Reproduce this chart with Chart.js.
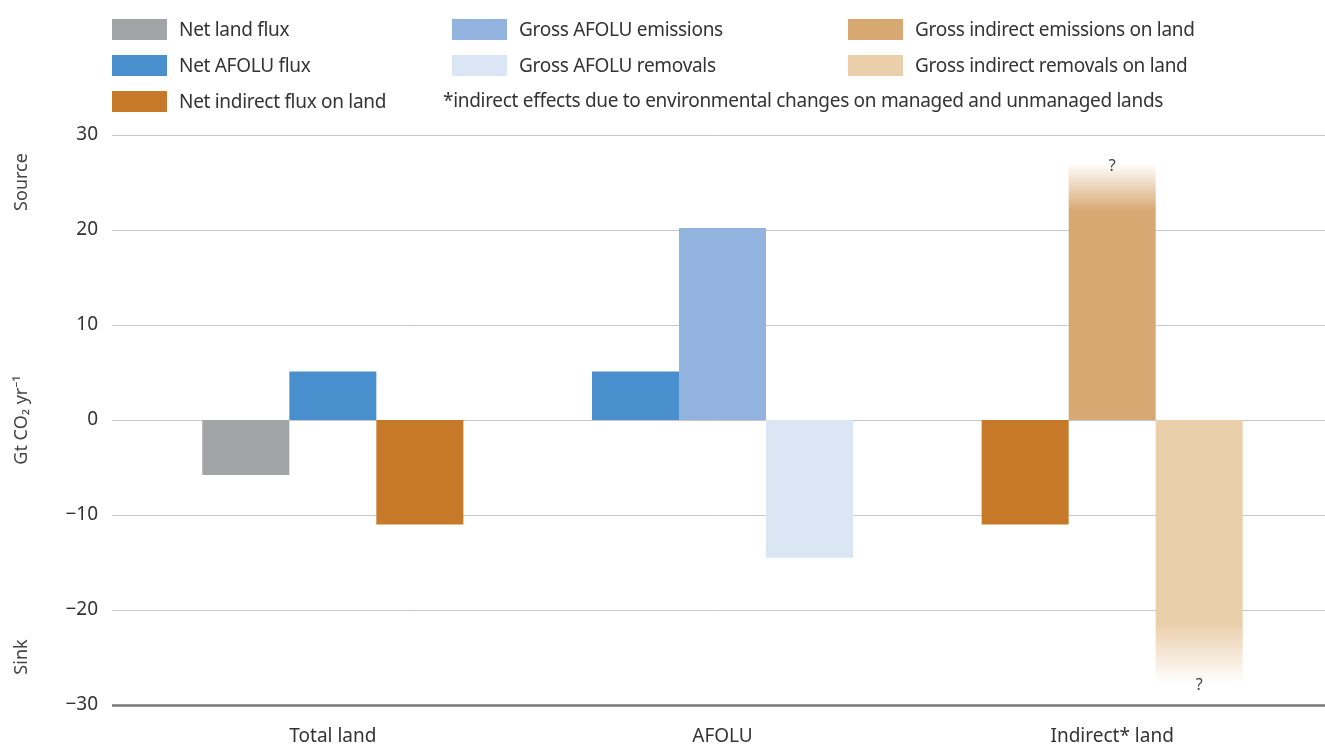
<!DOCTYPE html>
<html><head><meta charset="utf-8">
<script src="https://cdn.jsdelivr.net/npm/chart.js@4"></script>
<style>
body{margin:0;background:#fff;font-family:"Noto Sans",sans-serif;}
#wrap{position:relative;width:1325px;height:745px;}
#legend{position:absolute;left:0;top:0;width:1325px;height:120px;font-size:19px;color:#333;letter-spacing:-0.3px;}
.it{position:absolute;display:flex;align-items:center;white-space:nowrap;}
.sw{width:55px;height:21px;margin-right:12px;}
</style></head><body>
<div id="wrap"><canvas id="c" width="1325" height="745"></canvas><div id="legend"></div></div>
<script>
const categories = ["Total land", "AFOLU", "Indirect* land"];
const firstBar = [-5.8, 5.1, -11];
const secondBar = [5.1, 20.2, 27];
const thirdBar = [-11, -14.5, -27.7];
const yTicks = [30, 20, 10, 0, -10, -20, -30];
const legendNames = ["Net land flux", "Net AFOLU flux", "Net indirect flux on land", "Gross AFOLU emissions", "Gross AFOLU removals", "Gross indirect emissions on land", "Gross indirect removals on land"];
const legendColors = ["#a3a4a6", "#4a8fcd", "#c67a29", "#92b3de", "#dae6f4", "#d8a872", "#ebcfab"];
const note = "*indirect effects due to environmental changes on managed and unmanaged lands";

// legend in HTML
const pos = [[112,16],[112,52],[112,88],[452,16],[452,52],[848,16],[848,52]];
let html = "";
legendNames.forEach(function (n, i) {
    html += "<div class='it' style='left:" + pos[i][0] + "px;top:" + pos[i][1] + "px'><div class='sw' style='background:" + legendColors[i] + "'></div>" + n + "</div>";
});
html += "<div class='it' style='left:443px;top:89px;height:21px'>" + note + "</div>";
document.getElementById("legend").innerHTML = html;

function fade(ctx, color, solidTo, fadeTo) {
    const c = ctx.chart;
    if (!c.chartArea) return color;
    const y = c.scales.y;
    const g = c.ctx.createLinearGradient(0, y.getPixelForValue(solidTo), 0, y.getPixelForValue(fadeTo));
    g.addColorStop(0, color);
    g.addColorStop(1, "rgba(255,255,255,1)");
    return g;
}

const FONT = "'Noto Sans', sans-serif";

const extras = {
    id: "extras",
    beforeDatasetsDraw(chart) {
        const ctx = chart.ctx, y = chart.scales.y;
        ctx.save();
        yTicks.forEach(function (v) {
            const p = Math.round(y.getPixelForValue(v)) + 0.5;
            ctx.strokeStyle = v === -30 ? "#777" : "#c8c8c8";
            ctx.lineWidth = v === -30 ? 2.5 : 1;
            ctx.beginPath(); ctx.moveTo(112, p); ctx.lineTo(1325, p); ctx.stroke();
        });
        ctx.restore();
    },
    afterDraw(chart) {
        const ctx = chart.ctx, y = chart.scales.y;
        ctx.save();
        ctx.fillStyle = "#444";
        ctx.font = "18px " + FONT;
        ctx.textAlign = "center";
        ctx.textBaseline = "middle";
        const labs = [["Source", 182], ["Gt CO\u2082 yr\u207B\u00B9", 420], ["Sink", 657]];
        labs.forEach(function (l) {
            ctx.save(); ctx.translate(22, l[1]); ctx.rotate(-Math.PI / 2); ctx.fillText(l[0], 0, 0); ctx.restore();
        });
        ctx.font = "16px " + FONT;
        const m2 = chart.getDatasetMeta(1).data[2], m3 = chart.getDatasetMeta(2).data[2];
        ctx.fillText("?", m2.x, y.getPixelForValue(26.7));
        ctx.fillText("?", m3.x, y.getPixelForValue(-27.9));
        ctx.restore();
    }
};

new Chart(document.getElementById("c"), {
    type: "bar",
    data: {
        labels: categories,
        datasets: [
            { data: firstBar, backgroundColor: [legendColors[0], legendColors[1], legendColors[2]] },
            { data: secondBar, backgroundColor: function (ctx) {
                if (ctx.dataIndex === 0) return legendColors[1];
                if (ctx.dataIndex === 1) return legendColors[3];
                return fade(ctx, legendColors[5], 22, 27);
            } },
            { data: thirdBar, backgroundColor: function (ctx) {
                if (ctx.dataIndex === 0) return legendColors[2];
                if (ctx.dataIndex === 1) return legendColors[4];
                return fade(ctx, legendColors[6], -21.5, -27.7);
            } }
        ]
    },
    options: {
        responsive: false,
        animation: false,
        layout: { padding: { top: 135, left: 0, right: 18, bottom: 0 } },
        datasets: { bar: { barPercentage: 1, categoryPercentage: 0.67 } },
        plugins: { legend: { display: false }, tooltip: { enabled: false } },
        scales: {
            x: {
                afterFit: function (s) { s.height = 40; },
                grid: { display: false, drawTicks: false },
                border: { display: false },
                ticks: { color: "#333", font: { size: 19, family: FONT }, padding: 20 }
            },
            y: {
                min: -30, max: 30,
                afterFit: function (s) { s.width = 138; s.paddingTop = 0; s.paddingBottom = 0; },
                afterBuildTicks: function (s) { s.ticks = yTicks.map(function (v) { return { value: v }; }); },
                ticks: {
                    color: "#333", padding: 40,
                    font: { size: 19, family: FONT },
                    callback: function (v) { return v < 0 ? "\u2212" + Math.abs(v) : v; }
                },
                grid: { display: false, drawTicks: false },
                border: { display: false }
            }
        }
    },
    plugins: [extras]
});
</script></body></html>
